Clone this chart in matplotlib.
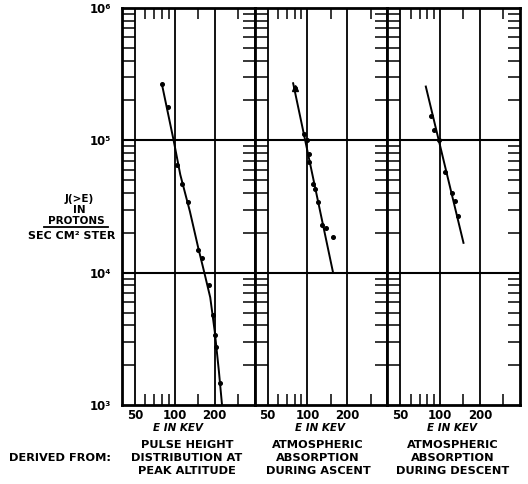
import matplotlib
matplotlib.use("Agg")
import matplotlib.pyplot as plt
from matplotlib.ticker import FixedLocator, NullFormatter, FixedFormatter

# ---- data ----
x_ticks = [50, 100, 200]
x_tick_labels = ["50", "100", "200"]
x_minor = [60, 70, 80, 90, 150, 300]
y_decades = [1e3, 1e4, 1e5, 1e6]
y_tick_labels = ["10³", "10⁴", "10⁵", "10⁶"]

# panel 1: pulse height distribution at peak altitude
p1_pts_E = [80, 89.5, 104.7, 112.6, 124.8, 150.4, 159.6, 180.7, 194, 200.8, 205, 221]
p1_pts_J = [2.65e5, 1.8e5, 6.5e4, 4.7e4, 3.4e4, 1.48e4, 1.28e4, 8.0e3, 4.8e3, 3.4e3, 2.75e3, 1.47e3]
p1_line_E = [80, 98, 110, 130, 150, 167, 185, 200, 215, 227]
p1_line_J = [2.65e5, 1.0e5, 5.5e4, 2.9e4, 1.55e4, 1.0e4, 6.5e3, 3.6e3, 1.8e3, 1.0e3]

# panel 2: atmospheric absorption during ascent
p2_pts_E = [80, 93.7, 98.5, 102.3, 103, 110.8, 114, 121, 129, 139, 154.8]
p2_pts_J = [2.5e5, 1.12e5, 1.0e5, 6.9e4, 7.9e4, 4.7e4, 4.3e4, 3.4e4, 2.3e4, 2.16e4, 1.85e4]
p2_line_E = [78, 156]
p2_line_J = [2.7e5, 1.0e4]

# panel 3: atmospheric absorption during descent
p3_pts_E = [85.6, 90, 97.6, 107.9, 122.8, 129, 137]
p3_pts_J = [1.53e5, 1.2e5, 1.0e5, 5.8e4, 4.0e4, 3.5e4, 2.7e4]
p3_line_E = [78, 150]
p3_line_J = [2.55e5, 1.68e4]

panel_titles = [
    "PULSE HEIGHT\nDISTRIBUTION AT\nPEAK ALTITUDE",
    "ATMOSPHERIC\nABSORPTION\nDURING ASCENT",
    "ATMOSPHERIC\nABSORPTION\nDURING DESCENT",
]

W, H = 528, 484
fig = plt.figure(figsize=(W / 100, H / 100), dpi=100)
fig.patch.set_facecolor("white")

FONT = dict(family="DejaVu Sans", weight="bold")

left_px, right_px, top_px, bot_px = 122, 520, 8, 405
pw = (right_px - left_px) / 3
panels = [
    (p1_pts_E, p1_pts_J, p1_line_E, p1_line_J),
    (p2_pts_E, p2_pts_J, p2_line_E, p2_line_J),
    (p3_pts_E, p3_pts_J, p3_line_E, p3_line_J),
]
kev_cx = [178, 320, 452]
title_cx = [187, 318, 453]

axes = []
for i, (pe, pj, le, lj) in enumerate(panels):
    x0 = left_px + i * pw
    ax = fig.add_axes([x0 / W, 1 - bot_px / H, pw / W, (bot_px - top_px) / H])
    axes.append(ax)
    ax.set_xscale("log")
    ax.set_yscale("log")
    ax.set_xlim(40, 400)
    ax.set_ylim(1e3, 1e6)

    for v in x_ticks:
        ax.axvline(v, color="black", lw=1.3, zorder=1)
    for v in [1e4, 1e5]:
        ax.axhline(v, color="black", lw=1.5, zorder=1)

    ax.plot(le, lj, color="black", lw=1.4, zorder=3)
    ax.plot(pe, pj, "o", color="black", ms=2.6, zorder=4)
    if i == 1:
        ax.plot([pe[0]], [pj[0]], marker="^", color="black", ms=5, zorder=4)

    # x ticks
    ax.xaxis.set_major_locator(FixedLocator(x_ticks))
    ax.xaxis.set_major_formatter(FixedFormatter(x_tick_labels))
    ax.xaxis.set_minor_locator(FixedLocator(x_minor))
    ax.xaxis.set_minor_formatter(NullFormatter())
    ax.tick_params(axis="x", which="major", length=0, pad=3, labelsize=8.5)
    ax.tick_params(axis="x", which="minor", direction="in", length=8, width=1.1,
                   top=True, bottom=True)
    for lab in ax.get_xticklabels():
        lab.set_fontweight("bold")

    # y ticks
    ax.yaxis.set_major_locator(FixedLocator(y_decades))
    minors = [m * d for d in [1e3, 1e4, 1e5] for m in range(2, 10)]
    ax.yaxis.set_minor_locator(FixedLocator(minors))
    ax.yaxis.set_minor_formatter(NullFormatter())
    ax.tick_params(axis="y", which="minor", direction="in", length=9, width=1.1,
                   left=True, right=True)
    ax.tick_params(axis="y", which="major", direction="in", length=0,
                   left=True, right=True)
    if i == 0:
        ax.yaxis.set_major_formatter(FixedFormatter(y_tick_labels))
        ax.tick_params(axis="y", which="major", pad=8, labelsize=8.5)
        for lab in ax.get_yticklabels():
            lab.set_fontweight("bold")
    else:
        ax.yaxis.set_major_formatter(NullFormatter())

    for side in ["top", "bottom", "left", "right"]:
        ax.spines[side].set_linewidth(2.0)
        ax.spines[side].set_color("black")

    fig.text(kev_cx[i] / W, 1 - 428 / H, "E IN KEV", ha="center", va="center",
             fontsize=7.5, style="italic", **FONT)
    fig.text(title_cx[i] / W, 1 - 458 / H, panel_titles[i], ha="center", va="center",
             fontsize=8.2, linespacing=1.4, **FONT)

fig.text(60 / W, 1 - 458 / H, "DERIVED FROM:", ha="center", va="center",
         fontsize=8.2, **FONT)

# y label
fig.text(79 / W, 1 - 199 / H, "J(>E)", ha="center", va="center", fontsize=7.5, **FONT)
fig.text(79 / W, 1 - 210 / H, "IN", ha="center", va="center", fontsize=7.5, **FONT)
fig.text(76 / W, 1 - 221 / H, "PROTONS", ha="center", va="center", fontsize=7.5, **FONT)
fig.add_artist(plt.Line2D([44 / W, 108 / W], [1 - 227 / H, 1 - 227 / H],
                          color="black", lw=1.3))
fig.text(72 / W, 1 - 236 / H, "SEC CM² STER", ha="center", va="center",
         fontsize=8, **FONT)

fig.savefig("out.png", dpi=100, facecolor="white")
